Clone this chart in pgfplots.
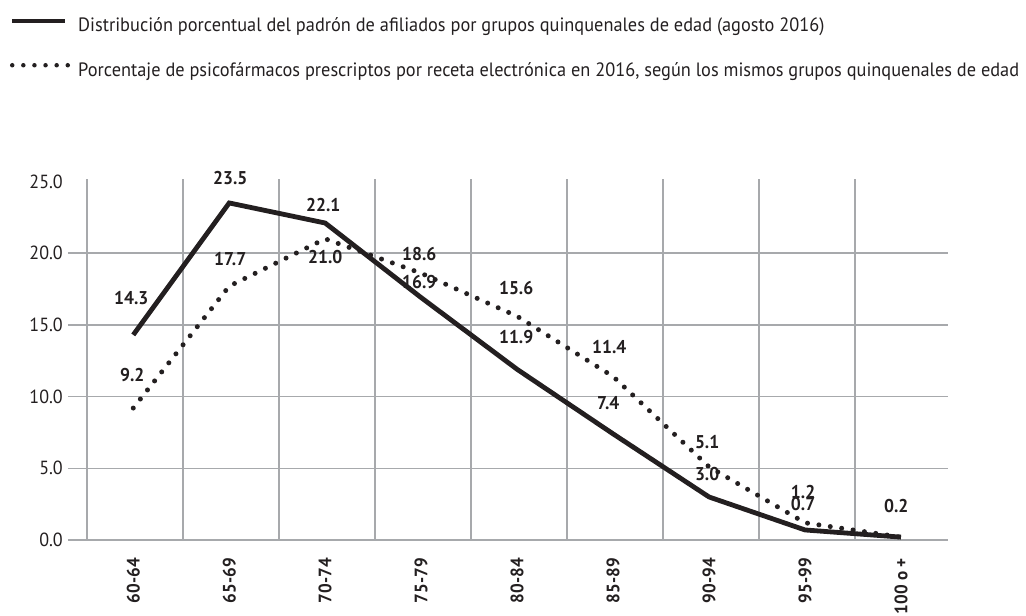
\documentclass[border=0pt]{standalone}
\usepackage{fontspec}
\setmainfont{PT Sans}[FakeStretch=0.95]
\usepackage{pgfplots}
\usepackage{pgfplotstable}
\pgfplotsset{compat=1.18}
\definecolor{ink}{HTML}{231F20}
\definecolor{gridc}{HTML}{A7A9AC}
\newcommand\legf{\fontsize{19.3}{22}\selectfont}
\newcommand\tickf{\fontsize{19}{21}\selectfont}
\newcommand\xtickf{\fontsize{18}{20}\selectfont\bfseries}
\newcommand\lblf{\fontsize{18.5}{20}\selectfont\bfseries}

\pgfplotstableread{
x y
0 14.3
1 23.5
2 22.1
3 16.9
4 11.9
5 7.4
6 3.0
7 0.7
8 0.2
}\solid

\pgfplotstableread{
x y
0 9.2
1 17.7
2 21.0
3 18.6
4 15.6
5 11.4
6 5.1
7 1.2
8 0.2
}\dotted

\pgfplotstableread{
x y t
-0.02 16.88 14.3
1.01 25.24 23.5
1.98 23.36 22.1
2.98 17.99 16.9
3.99 14.16 11.9
4.95 9.55 7.4
5.98 4.60 3.0
6.98 2.51 0.7
7.95 2.37 0.2
-0.01 11.50 9.2
1.01 19.60 17.7
2.00 19.74 21.0
2.98 19.94 18.6
3.99 17.57 15.6
4.96 13.46 11.4
5.98 6.83 5.1
6.98 3.35 1.2
}\labels

\begin{document}
\begin{tikzpicture}
\useasboundingbox (0,0) rectangle (1026pt,616pt);
\begin{axis}[
  at={(68pt,76pt)}, anchor=south west,
  scale only axis, width=880pt, height=361pt,
  xmin=-0.68, xmax=8.49, ymin=0, ymax=25.17,
  clip=false,
  axis line style={draw=none},
  major tick length=0pt, minor tick length=0pt,
  xtick={0,1,2,3,4,5,6,7,8},
  xticklabels={60-64,65-69,70-74,75-79,80-84,85-89,90-94,95-99,100 o +},
  minor xtick={-0.48,0.52,1.52,2.52,3.52,4.52,5.52,6.52,7.52},
  xminorgrids=true, xmajorgrids=false, ymajorgrids=true,
  grid style={gridc, line width=1.5pt},
  minor grid style={gridc, line width=1.5pt},
  ytick={0,5,10,15,20}, yticklabels={0.0,5.0,10.0,15.0,20.0},
  extra y ticks={25}, extra y tick labels={25.0},
  extra y tick style={grid=none},
  yticklabel style={font=\tickf, text=ink, anchor=east, inner sep=0pt, xshift=-5pt},
  xticklabel style={font=\xtickf, text=ink, yshift=-18pt, rotate=90, anchor=east, inner sep=0pt},
  legend style={at={(axis description cs:0,1)}, anchor=north west,
    xshift=-58pt, yshift=160pt, draw=none, fill=none, inner sep=0pt, outer sep=0pt,
    row sep=27pt, font=\legf, text=ink,
    nodes={inner sep=0pt, text height=13pt, text depth=4pt}},
  legend cell align=left,
]
\addplot[ink, line width=4.8pt, line join=miter,
  legend image code/.code={\path[draw=none] (0pt,6.5pt) -- (66pt,6.5pt);\draw[ink, line width=4pt, solid] (0pt,6.5pt) -- (53pt,6.5pt);}]
  table[x=x,y=y] {\solid};
\addlegendentry{Distribución porcentual del padrón de afiliados por grupos quinquenales de edad (agosto 2016)}
\addplot[ink, line width=5pt, line cap=round, dash pattern=on 0pt off 11.5pt,
  legend image code/.code={\path[draw=none] (0pt,6.5pt) -- (66pt,6.5pt);\draw[ink, line width=4.5pt, line cap=round, dash pattern=on 0pt off 11.1pt] (0pt,6.5pt) -- (55.6pt,6.5pt);}]
  table[x=x,y=y] {\dotted};
\addlegendentry{Porcentaje de psicofármacos prescriptos por receta electrónica en 2016, según los mismos grupos quinquenales de edad}
\addplot[draw=none, mark=none, forget plot, nodes near coords, point meta=explicit symbolic,
  nodes near coords align={center},
  every node near coord/.append style={font=\lblf, text=ink, inner sep=0pt}]
  table[x=x,y=y,meta=t] {\labels};
\end{axis}
\end{tikzpicture}
\end{document}
